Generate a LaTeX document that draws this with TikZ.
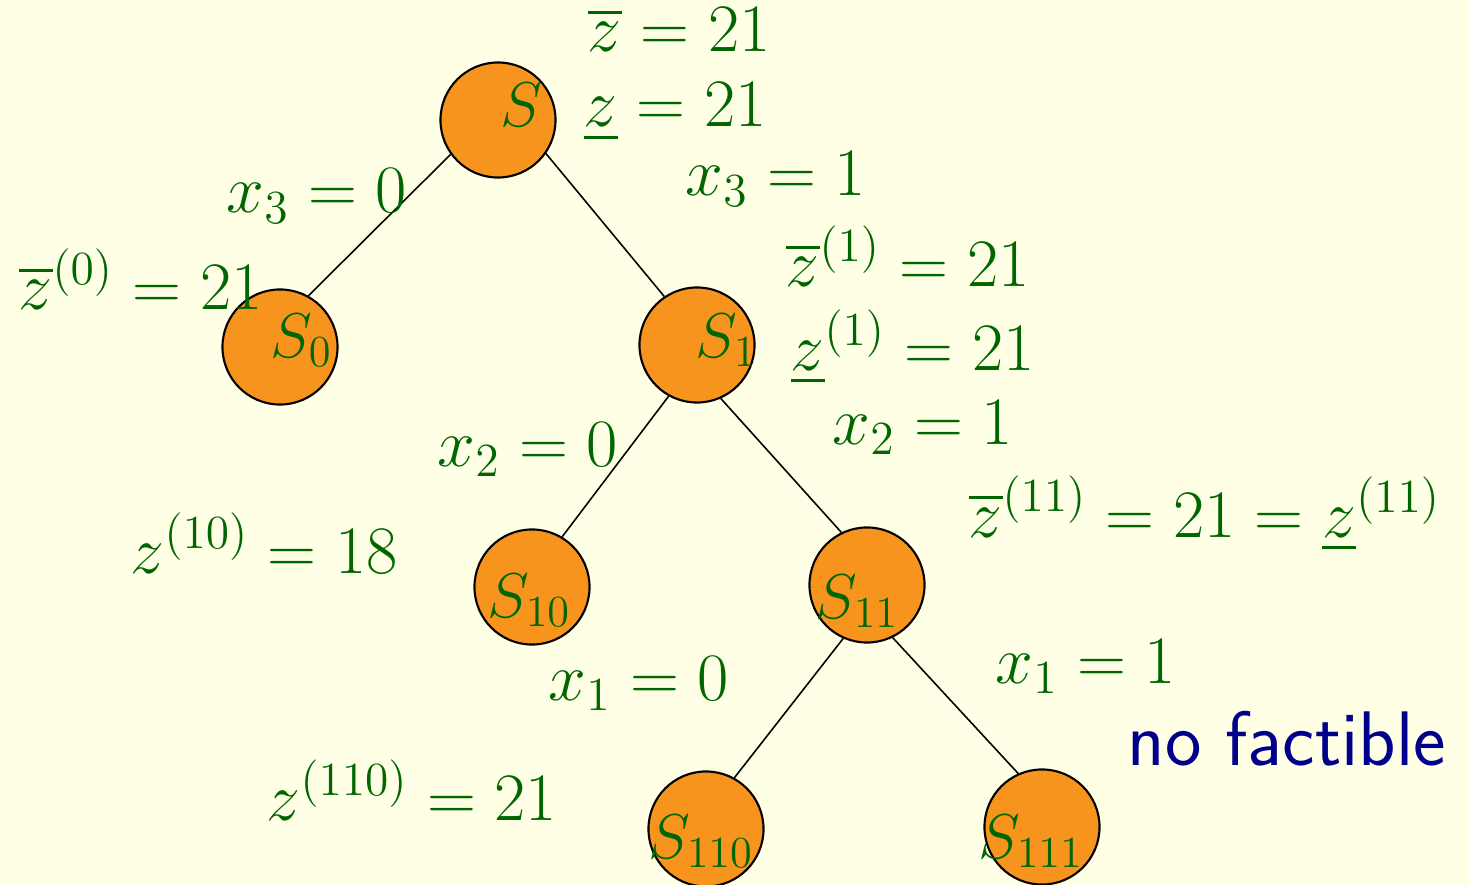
\documentclass[tikz,border=0pt]{standalone}
\usepackage{fix-cm}
\usepackage{amsmath}
\definecolor{bgyellow}{RGB}{255,255,230}
\definecolor{knotorange}{RGB}{247,148,30}
\definecolor{labgreen}{RGB}{0,102,0}
\definecolor{noteblue}{RGB}{0,0,140}
\begin{document}
\begin{tikzpicture}[x=0.01cm,y=-0.01cm,
  knot/.style={circle,draw,fill=knotorange,line width=0.6pt,minimum size=1.15cm,inner sep=0pt},
  branch/.style={line width=0.45pt},
  lab/.style={anchor=base west,inner sep=0pt,text=labgreen,font=\fontsize{19.3}{23}\selectfont},
  knotlab/.style={lab,font=\fontsize{18}{22}\selectfont}]
  \fill[bgyellow] (0,0) rectangle (1469,885);
  \useasboundingbox (0,0) rectangle (1469,885);
  \node[knot] (nS) at (498,120) {};
  \node[knot] (nS0) at (280,347) {};
  \node[knot] (nS1) at (697,345) {};
  \node[knot] (nS10) at (532,587) {};
  \node[knot] (nS11) at (867,585) {};
  \node[knot] (nS110) at (706,829) {};
  \node[knot] (nS111) at (1042,827) {};
  \draw[branch] (nS.-144) -- (nS0.61);
  \draw[branch] (nS.-35) -- (nS1.124);
  \draw[branch] (nS1.-119) -- (nS10.59);
  \draw[branch] (nS1.-66) -- (nS11.116);
  \draw[branch] (nS11.-114) -- (nS110.61);
  \draw[branch] (nS11.-64) -- (nS111.114);
  \node[knotlab] (tS) at (500,127) {$S$};
  \node[knotlab] (tS0) at (270,357) {$S_0$};
  \node[knotlab] (tS1) at (695,357) {$S_1$};
  \node[knotlab] (tS10) at (487,617) {$S_{10}$};
  \node[knotlab] (tS11) at (815,618) {$S_{11}$};
  \node[knotlab] (tS110) at (648,858) {$S_{110}$};
  \node[knotlab] (tS111) at (978,858) {$S_{111}$};
  \node[lab] (zbar) at (587,52) {$\overline{z}=21$};
  \node[lab] (zund) at (583,127) {$\underline{z}=21$};
  \node[lab] (xthreeone) at (685,196) {$x_3=1$};
  \node[lab] (xthreezero) at (226,213) {$x_3=0$};
  \node[lab] (zbarzero) at (18,310) {$\overline{z}^{(0)}=21$};
  \node[lab] (zbarone) at (785,287) {$\overline{z}^{(1)}=21$};
  \node[lab] (zundone) at (790,370) {$\underline{z}^{(1)}=21$};
  \node[lab] (xtwoone) at (832,444) {$x_2=1$};
  \node[lab] (xtwozero) at (437,466) {$x_2=0$};
  \node[lab] (zbareleven) at (968,537) {$\overline{z}^{(11)}=21=\underline{z}^{(11)}$};
  \node[lab] (zten) at (130,573) {$z^{(10)}=18$};
  \node[lab] (xoneone) at (995,683) {$x_1=1$};
  \node[lab] (xonezero) at (548,700) {$x_1=0$};
  \node[lab,text=noteblue,font=\fontsize{22}{26}\sffamily] (nofact) at (1127,765) {no factible};
  \node[lab] (zoneten) at (266,820) {$z^{(110)}=21$};
\end{tikzpicture}
\end{document}
